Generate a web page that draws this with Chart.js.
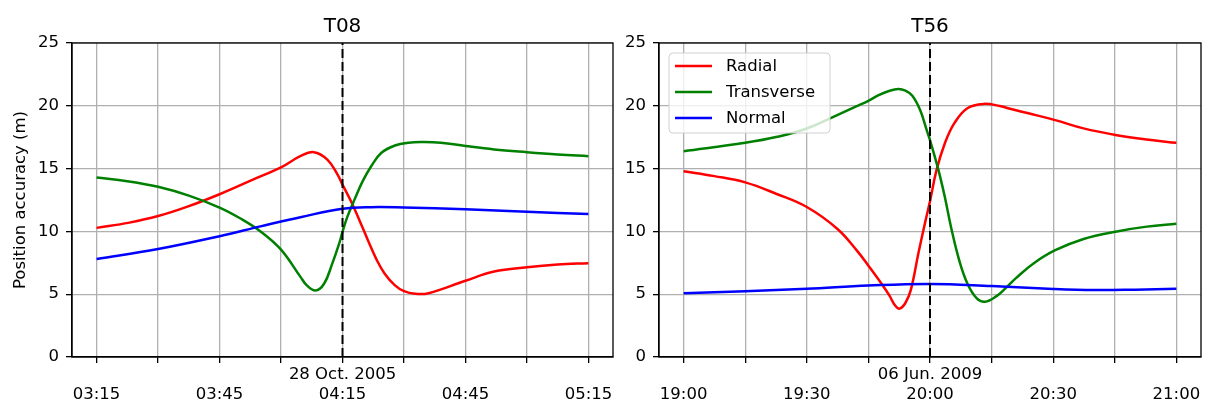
<!DOCTYPE html>
<html>
<head>
<meta charset="utf-8">
<script src="https://cdn.jsdelivr.net/npm/chart.js@4.4.1/dist/chart.umd.min.js"></script>
<style>
  html, body { margin: 0; padding: 0; background: #fff; }
  #wrap { position: relative; width: 1208px; height: 405px; }
  #left-chart { position: absolute; left: 0; top: 0; }
  #right-chart { position: absolute; left: 615px; top: 0; }
</style>
</head>
<body>
<div id="wrap">
  <canvas id="left-chart" width="615" height="405"></canvas>
  <canvas id="right-chart" width="593" height="405"></canvas>
</div>
<script>
// Shared styling
const FONT = "DejaVu Sans";
const RADIAL_COLOR = "#ff0000";
const TRANSVERSE_COLOR = "#008000";
const NORMAL_COLOR = "#0000ff";
const SERIES_LABELS = ["Radial", "Transverse", "Normal"];

// x ticks every 15 minutes from the start of each window, labels every 30
const X_TICKS = [0, 15, 30, 45, 60, 75, 90, 105, 120];
const Y_TICKS = [0, 5, 10, 15, 20, 25];
const EVENT_OFFSET = 60; // dashed line (closest approach)

// --- T08, 28 Oct. 2005, window starts 03:15 (minutes after start) ---
const T08_START = 3 * 60 + 15;
const T08_DATE = "28 Oct. 2005";
const t08RadialT = [0, 8, 15, 22, 30, 38, 45, 49.7, 53, 56.3, 58.8, 60, 62.1, 64.1, 66.2, 68.2, 70.3, 72.8, 75, 77.7, 81, 90, 97, 105, 112.5, 120];
const t08RadialV = [10.28, 10.7, 11.22, 11.95, 12.96, 14.1, 15.1, 15.99, 16.31, 15.72, 14.52, 13.72, 12.38, 10.91, 9.3, 7.83, 6.63, 5.7, 5.24, 5.03, 5.08, 6.07, 6.8, 7.14, 7.36, 7.47];
const t08TransT = [0, 7.5, 15, 22.5, 30, 35, 40, 45, 49.7, 51.3, 53.4, 55.5, 57.5, 59.2, 60, 61.2, 62.9, 64.9, 67, 69.5, 72.8, 76.1, 79.4, 84, 90, 97, 105, 112.5, 120];
const t08TransV = [14.3, 14.0, 13.55, 12.85, 11.9, 11.05, 10.0, 8.55, 6.4, 5.7, 5.29, 5.83, 7.43, 9.04, 9.97, 11.18, 12.51, 13.98, 15.19, 16.26, 16.84, 17.06, 17.11, 17.06, 16.8, 16.53, 16.31, 16.13, 15.99];
const t08NormalT = [0, 15, 30, 40, 50, 60, 67, 75, 90, 105, 120];
const t08NormalV = [7.81, 8.6, 9.62, 10.4, 11.15, 11.8, 11.93, 11.9, 11.76, 11.56, 11.38];

// --- T56, 06 Jun. 2009, window starts 19:00 ---
const T56_START = 19 * 60;
const T56_DATE = "06 Jun. 2009";
const t56RadialT = [0, 7.5, 15, 22.5, 30, 37.4, 42.2, 45, 48.5, 50.1, 51.5, 52.6, 54, 55.3, 57.2, 58.8, 60, 61.6, 63.6, 65.9, 69.1, 73, 77, 80, 84, 90.5, 97.4, 105.5, 112.8, 120];
const t56RadialV = [14.79, 14.4, 13.9, 13.0, 11.94, 10.21, 8.47, 7.27, 5.7, 4.9, 4.1, 3.85, 4.3, 5.3, 8.3, 10.7, 12.4, 14.9, 17.0, 18.6, 19.8, 20.15, 19.98, 19.72, 19.4, 18.86, 18.2, 17.66, 17.31, 17.05];
const t56TransT = [0, 15, 22.8, 30, 37.4, 42, 45, 47.5, 50, 52.3, 54, 55.7, 57.6, 59.2, 60, 62, 63.6, 65.1, 67.1, 69.1, 71.4, 73.4, 76.2, 78.5, 81, 85.2, 90.5, 97.4, 105.5, 112.8, 120];
const t56TransV = [16.38, 17.05, 17.53, 18.19, 19.26, 19.95, 20.4, 20.85, 21.18, 21.33, 21.2, 20.8, 19.66, 18.06, 17.27, 14.96, 12.76, 10.37, 7.72, 5.86, 4.67, 4.4, 4.85, 5.5, 6.3, 7.45, 8.5, 9.4, 10.0, 10.38, 10.61];
const t56NormalT = [0, 15, 30, 45, 60, 75, 90, 100, 110, 120];
const t56NormalV = [5.08, 5.24, 5.43, 5.69, 5.82, 5.65, 5.42, 5.33, 5.36, 5.43];

// Helpers
const clock = (m) => String(Math.floor(m / 60) % 24).padStart(2, "0") + ":" + String(m % 60).padStart(2, "0");
const toPoints = (ts, vs) => ts.map((t, i) => ({ x: t, y: vs[i] }));

const lineDataset = (label, color, ts, vs) => ({
  label,
  data: toPoints(ts, vs),
  borderColor: color,
  backgroundColor: color,
  borderWidth: 2.5,
  pointRadius: 0,
  tension: 0.4,
  fill: false,
});

const eventDataset = () => ({
  label: "",
  data: [{ x: EVENT_OFFSET, y: 0 }, { x: EVENT_OFFSET, y: 25 }],
  borderColor: "#000",
  borderWidth: 2,
  borderDash: [9, 4],
  pointRadius: 0,
  fill: false,
});

// Frame, title and (optional) legend drawn inside the plot area
const framePlugin = {
  id: "frame",
  afterDatasetsDraw(chart, args, opts) {
    const { ctx, chartArea: a } = chart;
    ctx.save();
    ctx.strokeStyle = "#000";
    ctx.lineWidth = 1.3;
    ctx.strokeRect(a.left, a.top, a.right - a.left, a.bottom - a.top);

    ctx.fillStyle = "#000";
    ctx.font = "20px '" + FONT + "'";
    ctx.textAlign = "center";
    ctx.textBaseline = "middle";
    ctx.fillText(opts.title, (a.left + a.right) / 2, 27);

    if (opts.legend) {
      const bx = a.left + 10, by = a.top + 10, bw = 161, bh = 80, r = 4;
      ctx.beginPath();
      ctx.roundRect(bx, by, bw, bh, r);
      ctx.fillStyle = "rgba(255,255,255,0.8)";
      ctx.fill();
      ctx.strokeStyle = "#d0d0d0";
      ctx.lineWidth = 1;
      ctx.stroke();
      ctx.font = "16.5px '" + FONT + "'";
      ctx.textAlign = "left";
      SERIES_LABELS.forEach((name, i) => {
        const ds = chart.data.datasets.find((d) => d.label === name);
        const y = by + 13 + i * 26;
        ctx.strokeStyle = ds.borderColor;
        ctx.lineWidth = 2.5;
        ctx.beginPath();
        ctx.moveTo(bx + 6, y);
        ctx.lineTo(bx + 43, y);
        ctx.stroke();
        ctx.fillStyle = "#000";
        ctx.fillText(name, bx + 57, y + 1);
      });
    }
    ctx.restore();
  },
};

const buildOptions = (start, dateText, title, yWidth, rightPad, showYTitle, showLegend) => ({
  responsive: false,
  animation: false,
  devicePixelRatio: 1,
  layout: { padding: { top: 43, right: rightPad, bottom: 0, left: 0 } },
  plugins: {
    legend: { display: false },
    tooltip: { enabled: false },
    frame: { title, legend: showLegend },
  },
  scales: {
    x: {
      type: "linear",
      min: -6,
      max: 126,
      afterBuildTicks: (s) => { s.ticks = X_TICKS.map((v) => ({ value: v })); },
      afterFit: (s) => { s.height = 48; },
      grid: { color: "#b0b0b0", lineWidth: 1.3, drawTicks: true, tickLength: 6, tickColor: "#000", tickWidth: 1.3 },
      border: { display: true, color: "#000", width: 1.3 },
      ticks: {
        autoSkip: false,
        maxRotation: 0,
        padding: 2,
        color: "#000",
        font: { family: FONT, size: 16.5 },
        callback: (v) => {
          if (v % 30 !== 0) return "";
          const lbl = clock(start + v);
          return v === EVENT_OFFSET ? [dateText, lbl] : ["", lbl];
        },
      },
    },
    y: {
      min: 0,
      max: 25,
      afterBuildTicks: (s) => { s.ticks = Y_TICKS.map((v) => ({ value: v })); },
      afterFit: (s) => { s.width = yWidth; },
      grid: { color: "#b0b0b0", lineWidth: 1.3, drawTicks: true, tickLength: 6, tickColor: "#000", tickWidth: 1.3 },
      border: { display: true, color: "#000", width: 1.3 },
      ticks: { padding: 7, color: "#000", font: { family: FONT, size: 16.5 } },
      title: {
        display: showYTitle,
        text: "Position accuracy (m)",
        color: "#000",
        font: { family: FONT, size: 16.5 },
        padding: { top: 11, bottom: 0 },
      },
    },
  },
});

new Chart(document.getElementById("left-chart"), {
  type: "line",
  data: {
    datasets: [
      eventDataset(),
      lineDataset("Normal", NORMAL_COLOR, t08NormalT, t08NormalV),
      lineDataset("Transverse", TRANSVERSE_COLOR, t08TransT, t08TransV),
      lineDataset("Radial", RADIAL_COLOR, t08RadialT, t08RadialV),
    ],
  },
  options: buildOptions(T08_START, T08_DATE, "T08", 72, 2, true, false),
  plugins: [framePlugin],
});

new Chart(document.getElementById("right-chart"), {
  type: "line",
  data: {
    datasets: [
      eventDataset(),
      lineDataset("Normal", NORMAL_COLOR, t56NormalT, t56NormalV),
      lineDataset("Transverse", TRANSVERSE_COLOR, t56TransT, t56TransV),
      lineDataset("Radial", RADIAL_COLOR, t56RadialT, t56RadialV),
    ],
  },
  options: buildOptions(T56_START, T56_DATE, "T56", 44, 7, false, true),
  plugins: [framePlugin],
});
</script>
</body>
</html>
